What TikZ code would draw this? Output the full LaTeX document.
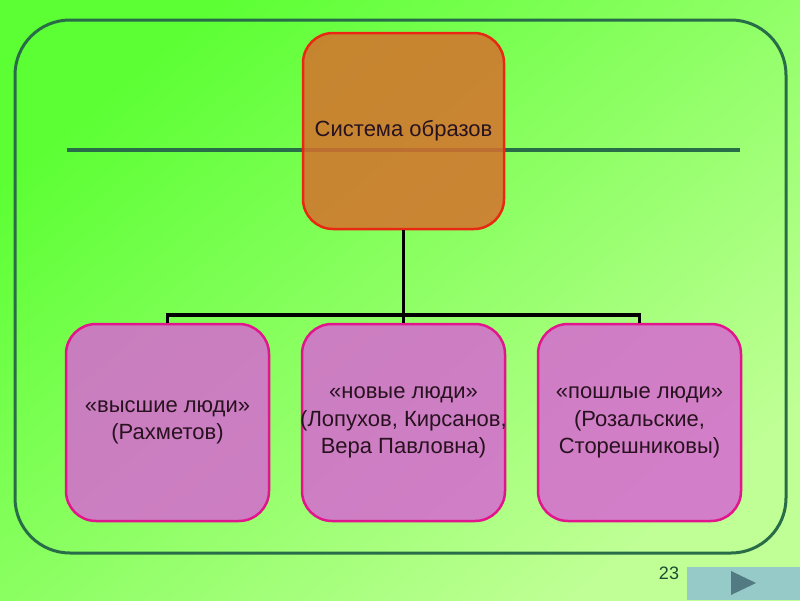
\documentclass[tikz,border=0pt]{standalone}
\usepackage{fontspec}
\setmainfont{Liberation Sans}
\usepackage{tikz}
\usetikzlibrary{positioning}
\definecolor{bgtop}{RGB}{92,255,52}
\definecolor{bgbot}{RGB}{192,255,150}
\definecolor{framec}{RGB}{40,108,72}
\definecolor{topfill}{RGB}{214,112,44}
\definecolor{topline}{RGB}{232,40,18}
\definecolor{boxfill}{RGB}{215,104,210}
\definecolor{boxline}{RGB}{226,22,140}
\definecolor{textc}{RGB}{40,18,32}
\definecolor{btnfill}{RGB}{150,202,200}
\definecolor{btnarrow}{RGB}{82,122,130}

\begin{document}
\begin{tikzpicture}[x=1pt, y=-1pt,
    topbox/.style={draw=topline, line width=2.5pt, fill=topfill, fill opacity=0.85, text opacity=1,
        rounded corners=30pt, minimum width=201pt, minimum height=196pt, text=textc,
        font=\fontsize{22}{27.5}\selectfont},
    personbox/.style={draw=boxline, line width=2.5pt, fill=boxfill, fill opacity=0.85,
        rounded corners=30pt, minimum width=203pt, minimum height=197pt},
    boxtext/.style={align=center, text=textc, font=\fontsize{22}{27.5}\selectfont},
    tree/.style={line width=3.5pt, black}]
    \useasboundingbox (0,0) rectangle (800,600);
    \shade[top color=bgtop, bottom color=bgbot, shading angle=40] (0,0) rectangle (800,600);
    \draw[framec, line width=3pt, rounded corners=55pt] (15,20) rectangle (786,553);
    \draw[framec, line width=3.5pt] (67,150) -- (740,150);

    % tree
    \coordinate (bus) at (403.5,315);
    \node[topbox] (system) at (403.5,131) {Система образов};
    \node[personbox, label={[boxtext]center:«высшие люди»\\(Рахметов)}] (high) at (167.5,422.5) {};
    \node[personbox, label={[boxtext]center:«новые люди»\\(Лопухов, Кирсанов,\\Вера Павловна)}] (new) at (403.5,422.5) {};
    \node[personbox, label={[boxtext]center:«пошлые люди»\\(Розальские,\\Сторешниковы)}] (low) at (639.5,422.5) {};
    \draw[tree] (system.south) -- (bus) -- (new.north);
    \draw[tree] (bus) -| (high.north);
    \draw[tree] (bus) -| (low.north);

    % footer
    \node[text=framec!70!black, font=\fontsize{18}{20}\selectfont] (page) at (669,573) {23};
    \fill[btnfill] (687,567) rectangle (800,600);
    \fill[btnarrow] (731,571) -- (756,583) -- (731,595) -- cycle;
\end{tikzpicture}
\end{document}
